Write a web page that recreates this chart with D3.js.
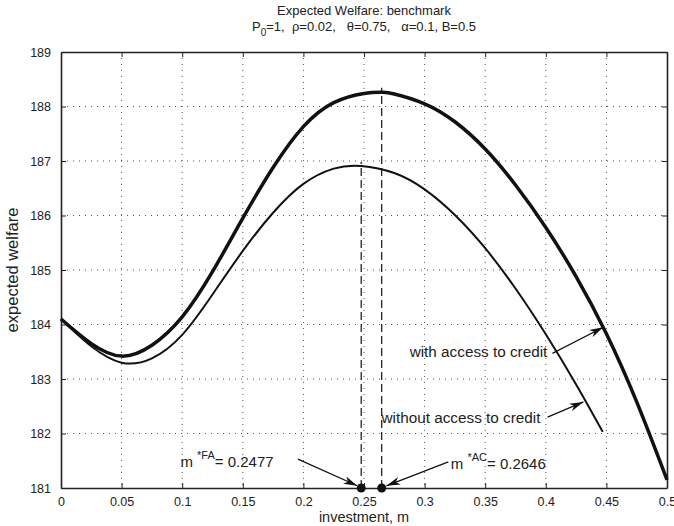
<!DOCTYPE html>
<html>
<head>
<meta charset="utf-8">
<script src="https://cdn.jsdelivr.net/npm/d3@7"></script>
<style>
  body { margin: 0; background: #fff; }
  text { font-family: "Liberation Sans", Arial, sans-serif; fill: #222; }
</style>
</head>
<body>
<div id="chart"></div>
<script>
const svgWidth = 674
const svgHeight = 526
let margin = { top: 52, right: 7, bottom: 38, left: 61 }
let width = svgWidth - margin.left - margin.right
let height = svgHeight - margin.top - margin.bottom

// investment grid and welfare values
let mAC = [0, 0.025, 0.05, 0.075, 0.1, 0.125, 0.15, 0.175, 0.2, 0.225, 0.25, 0.265, 0.275, 0.3, 0.325, 0.35, 0.375, 0.4, 0.425, 0.45, 0.475, 0.5]
let welfareAC = [184.1, 183.65, 183.42, 183.62, 184.14, 184.97, 185.95, 186.88, 187.63, 188.07, 188.24, 188.26, 188.23, 188.05, 187.72, 187.22, 186.56, 185.78, 184.88, 183.83, 182.58, 181.15]
let mFA = [0, 0.025, 0.05, 0.075, 0.1, 0.125, 0.15, 0.175, 0.2, 0.225, 0.2477, 0.275, 0.3, 0.325, 0.35, 0.375, 0.4, 0.425, 0.447]
let welfareFA = [184.1, 183.6, 183.3, 183.38, 183.81, 184.55, 185.35, 186.05, 186.58, 186.86, 186.91, 186.78, 186.48, 186.01, 185.4, 184.66, 183.82, 182.9, 182.03]

let optima = [
  { name: "FA", m: 0.2477, w: 186.91 },
  { name: "AC", m: 0.2646, w: 188.27 }
]
let xTicks = [0, 0.05, 0.1, 0.15, 0.2, 0.25, 0.3, 0.35, 0.4, 0.45, 0.5]
let yTicks = [181, 182, 183, 184, 185, 186, 187, 188, 189]

let svg = d3
  .select("#chart")
  .append("svg")
  .attr("width", svgWidth)
  .attr("height", svgHeight)

svg.append("defs")
  .append("marker")
  .attr("id", "head")
  .attr("viewBox", "0 0 14 8")
  .attr("refX", 14)
  .attr("refY", 4)
  .attr("markerWidth", 14)
  .attr("markerHeight", 8)
  .attr("markerUnits", "userSpaceOnUse")
  .attr("orient", "auto")
  .append("path")
  .attr("d", "M0,0 L14,4 L0,8 L4,4 Z")
  .attr("fill", "#111")

let chartGroup = svg
  .append("g")
  .attr("transform", `translate(${margin.left}, ${margin.top})`)

let x = d3.scaleLinear().domain([0, 0.5]).range([0, width])
let y = d3.scaleLinear().domain([181, 189]).range([height, 0])

// dotted grid
chartGroup.append("g")
  .selectAll("line")
  .data(xTicks.slice(1, -1))
  .enter()
  .append("line")
  .attr("x1", d => x(d))
  .attr("x2", d => x(d))
  .attr("y1", 0)
  .attr("y2", height)
  .attr("stroke", "#555")
  .attr("stroke-width", 1)
  .attr("stroke-dasharray", "1,5")
chartGroup.append("g")
  .selectAll("line")
  .data(yTicks.slice(1, -1))
  .enter()
  .append("line")
  .attr("x1", 0)
  .attr("x2", width)
  .attr("y1", d => y(d))
  .attr("y2", d => y(d))
  .attr("stroke", "#555")
  .attr("stroke-width", 1)
  .attr("stroke-dasharray", "1,5")

// axes with inward ticks on all four sides
let bottomAxis = d3.axisBottom(x).tickValues(xTicks).tickFormat(d => d3.format("")(d)).tickSizeInner(-5).tickSizeOuter(0).tickPadding(9)
let leftAxis = d3.axisLeft(y).tickValues(yTicks).tickSizeInner(-5).tickSizeOuter(0).tickPadding(10)
let xAxis = chartGroup.append("g")
  .attr("transform", `translate(0, ${height})`)
  .call(bottomAxis)
let yAxis = chartGroup.append("g").call(leftAxis)
chartGroup.append("g").call(d3.axisTop(x).tickValues(xTicks).tickFormat("").tickSizeInner(-5).tickSizeOuter(0))
chartGroup.append("g")
  .attr("transform", `translate(${width}, 0)`)
  .call(d3.axisRight(y).tickValues(yTicks).tickFormat("").tickSizeInner(-5).tickSizeOuter(0))

chartGroup.selectAll(".domain").attr("stroke", "#222").attr("stroke-width", 1.6)
chartGroup.selectAll(".tick line").attr("stroke", "#222")
chartGroup.selectAll(".tick text")
  .style("font-size", "12.5px")
  .style("font-family", "Liberation Sans, Arial, sans-serif")
  .attr("fill", "#222")

// curves
let line = d3.line().curve(d3.curveNatural)
chartGroup.append("path")
  .attr("d", line(mAC.map((m, i) => [x(m), y(welfareAC[i])])))
  .attr("fill", "none")
  .attr("stroke", "#111")
  .attr("stroke-width", 3.5)
chartGroup.append("path")
  .attr("d", line(mFA.map((m, i) => [x(m), y(welfareFA[i])])))
  .attr("fill", "none")
  .attr("stroke", "#111")
  .attr("stroke-width", 2)

// optimum markers
chartGroup.selectAll(".opt")
  .data(optima)
  .enter()
  .append("line")
  .attr("x1", d => x(d.m))
  .attr("x2", d => x(d.m))
  .attr("y1", y(181))
  .attr("y2", d => y(d.w) - 4)
  .attr("stroke", "#111")
  .attr("stroke-width", 1.2)
  .attr("stroke-dasharray", "8,4")
chartGroup.selectAll(".dot")
  .data(optima)
  .enter()
  .append("circle")
  .attr("cx", d => x(d.m))
  .attr("cy", y(181))
  .attr("r", 4.5)
  .attr("fill", "#111")

// annotations
function arrow(x1, y1, x2, y2) {
  chartGroup.append("line")
    .attr("x1", x(x1)).attr("y1", y(y1))
    .attr("x2", x(x2)).attr("y2", y(y2))
    .attr("stroke", "#111")
    .attr("stroke-width", 1.2)
    .attr("marker-end", "url(#head)")
}
function label(mx, wy, str, anchor) {
  return chartGroup.append("text")
    .attr("x", x(mx))
    .attr("y", y(wy))
    .style("font-size", "15.3px")
    .style("text-anchor", anchor)
    .text(str)
}
label(0.4013, 183.4, "with access to credit", "end")
arrow(0.4055, 183.47, 0.4474, 183.95)
label(0.3956, 182.2, "without access to credit", "end")
arrow(0.4015, 182.3, 0.431, 182.58)

function optLabel(mx, wy, sup, value) {
  let t = chartGroup.append("text")
    .attr("x", x(mx))
    .attr("y", y(wy))
    .style("font-size", "15px")
    .style("white-space", "pre")
  t.append("tspan").text("m ")
  t.append("tspan").attr("dy", -8).style("font-size", "11px").text(sup)
  t.append("tspan").attr("dy", 8).text("= " + value)
}
optLabel(0.0985, 181.39, "*FA", "0.2477")
arrow(0.1955, 181.53, 0.2445, 181.04)
optLabel(0.3216, 181.34, "*AC", "0.2646")
arrow(0.3196, 181.48, 0.2685, 181.04)

// axis labels and title
svg.append("text")
  .attr("x", margin.left + width / 2)
  .attr("y", 522)
  .style("font-size", "14.5px")
  .style("text-anchor", "middle")
  .text("investment, m")
svg.append("text")
  .attr("transform", `translate(18, ${margin.top + height / 2}) rotate(-90)`)
  .style("font-size", "16.5px")
  .style("text-anchor", "middle")
  .text("expected welfare")
svg.append("text")
  .attr("x", margin.left + width / 2)
  .attr("y", 15)
  .style("font-size", "13px")
  .style("text-anchor", "middle")
  .text("Expected Welfare: benchmark")
let sub = svg.append("text")
  .attr("x", margin.left + width / 2)
  .attr("y", 31)
  .style("font-size", "13px")
  .style("text-anchor", "middle")
  .style("white-space", "pre")
sub.append("tspan").text("P")
sub.append("tspan").attr("dy", 5).style("font-size", "10px").text("0")
sub.append("tspan").attr("dy", -5).text("=1,  \u03c1=0.02,   \u03b8=0.75,   \u03b1=0.1, B=0.5")
</script>
</body>
</html>
